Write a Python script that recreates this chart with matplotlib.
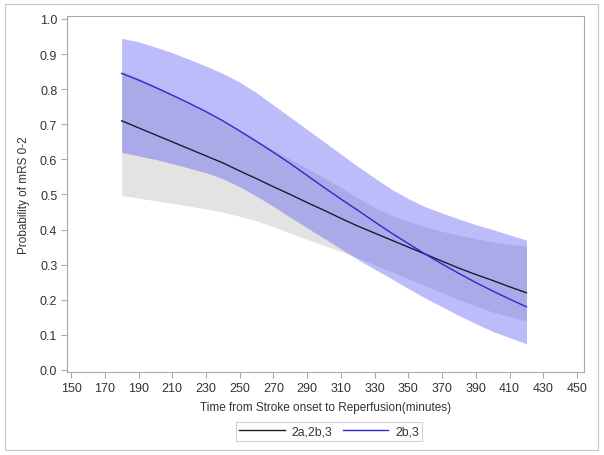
import matplotlib
matplotlib.use("Agg")
import matplotlib.pyplot as plt
from matplotlib.patches import Rectangle
from matplotlib.lines import Line2D

plt.rcParams['font.family'] = ['Liberation Sans', 'DejaVu Sans']

# Data
time_min = [180, 190, 200, 210, 220, 230, 240, 250, 260, 270, 280, 290, 300,
            310, 320, 330, 340, 350, 360, 370, 380, 390, 400, 410, 420]

# series "2a,2b,3"
p_all = [0.71, 0.69, 0.67, 0.65, 0.63, 0.61, 0.59, 0.567, 0.545, 0.522, 0.50, 0.477, 0.455,
         0.432, 0.41, 0.39, 0.37, 0.35, 0.33, 0.31, 0.29, 0.272, 0.255, 0.237, 0.22]
lo_all = [0.497, 0.49, 0.482, 0.475, 0.467, 0.459, 0.45, 0.438, 0.425, 0.408, 0.39, 0.372, 0.355,
          0.338, 0.32, 0.30, 0.28, 0.26, 0.24, 0.22, 0.20, 0.182, 0.165, 0.152, 0.14]
hi_all = [0.853, 0.832, 0.81, 0.785, 0.76, 0.735, 0.71, 0.683, 0.655, 0.627, 0.60, 0.575, 0.548,
          0.52, 0.49, 0.463, 0.44, 0.423, 0.408, 0.395, 0.384, 0.374, 0.365, 0.358, 0.352]

# series "2b,3"
p_b = [0.845, 0.826, 0.805, 0.783, 0.76, 0.736, 0.71, 0.681, 0.651, 0.62, 0.588, 0.554, 0.52,
       0.487, 0.455, 0.422, 0.39, 0.36, 0.33, 0.302, 0.275, 0.249, 0.225, 0.202, 0.18]
lo_b = [0.62, 0.61, 0.60, 0.588, 0.575, 0.562, 0.545, 0.522, 0.495, 0.466, 0.435, 0.405, 0.375,
        0.345, 0.315, 0.287, 0.26, 0.232, 0.205, 0.18, 0.155, 0.132, 0.11, 0.092, 0.075]
hi_b = [0.945, 0.935, 0.92, 0.904, 0.885, 0.866, 0.845, 0.82, 0.79, 0.755, 0.72, 0.685, 0.65,
        0.615, 0.58, 0.547, 0.515, 0.488, 0.465, 0.447, 0.43, 0.414, 0.40, 0.385, 0.37]

series_labels = ["2a,2b,3", "2b,3"]
x_ticks = list(range(150, 451, 20))
y_ticks = [round(0.1 * i, 1) for i in range(11)]

W, H = 604, 456
fig = plt.figure(figsize=(W / 100, H / 100), dpi=100)
fig.patches.append(Rectangle((5 / W, 1 - 451 / H), 593 / W, 446 / H, transform=fig.transFigure,
                             fill=False, edgecolor='#c8c8c8', linewidth=0.8))

ax = fig.add_axes([67 / W, 1 - 373 / H, (584 - 67) / W, (373 - 17) / H])

ax.fill_between(time_min, lo_all, hi_all, color='#e3e3e3', linewidth=0, zorder=1)
ax.fill_between(time_min, lo_b, hi_b, color=(0.25, 0.25, 0.95), alpha=0.35, linewidth=0, zorder=2)
ax.plot(time_min, p_all, color='#1c1c30', linewidth=1.0, zorder=3)
ax.plot(time_min, p_b, color='#2a2ad0', linewidth=1.0, zorder=4)

ax.set_xlim(147.6, 454.1)
ax.set_ylim(-0.0057, 1.0085)
ax.set_xticks(x_ticks)
ax.set_xticklabels([str(v) for v in x_ticks])
ax.set_yticks(y_ticks)
ax.set_yticklabels([f"{v:.1f}" for v in y_ticks])

for s in ax.spines.values():
    s.set_color('#a8a8a8')
    s.set_linewidth(0.8)
ax.tick_params(axis='both', colors='#a8a8a8', labelcolor='#333333', labelsize=9, length=4, width=0.8, pad=3)

ax.set_xlabel("Time from Stroke onset to Reperfusion(minutes)", fontsize=8.5, color='#333333', labelpad=5)
ax.set_ylabel("Probability of mRS 0-2", fontsize=8.5, color='#333333', labelpad=7)

handles = [Line2D([], [], color='#1c1c30', linewidth=1.0),
           Line2D([], [], color='#2a2ad0', linewidth=1.0)]
leg = fig.legend(handles, series_labels, loc='center', bbox_to_anchor=(329 / W, 1 - 432.5 / H),
                 ncol=2, frameon=True, fontsize=8.8, handlelength=3.7, handletextpad=0.55,
                 columnspacing=0.9, borderpad=0.3, fancybox=False)
leg.get_frame().set_edgecolor('#c8c8c8')
leg.get_frame().set_linewidth(0.8)
for t in leg.get_texts():
    t.set_color('#333333')

fig.savefig("out.png", dpi=100)
